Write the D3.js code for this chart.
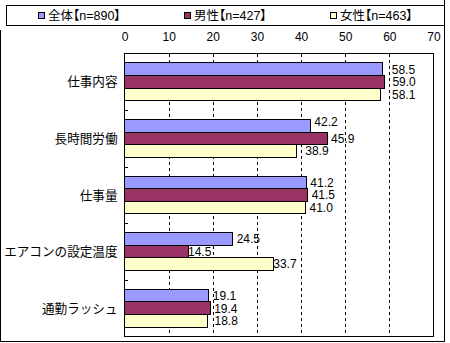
<!DOCTYPE html>
<html>
<head>
<meta charset="utf-8">
<script src="https://cdn.jsdelivr.net/npm/d3@7"></script>
<style>
  html, body { margin: 0; padding: 0; background: #fff; }
  svg { display: block; }
  .num { font-family: "Liberation Sans", Arial, sans-serif; font-size: 12px; fill: #000; }
  .jp { font-family: "Liberation Sans", "Noto Sans CJK JP", sans-serif; font-size: 12.5px; fill: #000; font-feature-settings: "palt"; }
  .cat { font-family: "Noto Sans CJK JP", sans-serif; font-size: 12.6px; fill: #000; }
</style>
</head>
<body>
<svg id="chart" width="450" height="343"></svg>
<script>
// Survey categories (top to bottom) and the three respondent groups
const categories = ["仕事内容", "長時間労働", "仕事量", "エアコンの設定温度", "通勤ラッシュ"];
const seriesNames = ["全体【n=890】", "男性【n=427】", "女性【n=463】"];
const totalValues = [58.5, 42.2, 41.2, 24.5, 19.1];
const maleValues = [59.0, 45.9, 41.5, 14.5, 19.4];
const femaleValues = [58.1, 38.9, 41.0, 33.7, 18.8];
const xTicks = [0, 10, 20, 30, 40, 50, 60, 70];

const seriesColors = ["#9999FF", "#993366", "#FFFFCC"];
// small hand placement of some value labels (px)
const labelNudgeX = [[5, 3.5, 7], [-0.5, 0, 5], [0, 0, 0], [0, -4.5, -4], [0, 0, 3]];
const labelNudgeY = [[0, 0, 0], [-4, 0, 0], [0, 0, 0], [0, 0, 0], [0, 0, 0]];

const valuesBySeries = [totalValues, maleValues, femaleValues];

const svg = d3.select("#chart");

// outer frame
svg.append("path")
  .attr("d", "M0.5,30 V341.5 H444.5 V0")
  .attr("fill", "none").attr("stroke", "#000").attr("stroke-width", 1)
  .attr("shape-rendering", "crispEdges");

const plot = { left: 124.5, right: 433.5, top: 53.5, bottom: 336.5 };

const x = d3.scaleLinear().domain([0, 70]).range([plot.left, plot.right]);
const y = d3.scaleBand().domain(categories).range([plot.top, plot.bottom]);
const ySeries = d3.scaleBand().domain(d3.range(3)).range([0, y.bandwidth()])
  .paddingInner(0).paddingOuter(0.75);

// plot background
svg.append("rect")
  .attr("x", plot.left).attr("y", plot.top)
  .attr("width", plot.right - plot.left).attr("height", plot.bottom - plot.top)
  .attr("fill", "#fff");

// dashed vertical gridlines
svg.append("g")
  .selectAll("line")
  .data(xTicks.slice(1, -1))
  .join("line")
  .attr("x1", d => Math.round(x(d)) + 0.5).attr("x2", d => Math.round(x(d)) + 0.5)
  .attr("y1", plot.top).attr("y2", plot.bottom)
  .attr("stroke", "#000").attr("stroke-dasharray", "3,3")
  .attr("shape-rendering", "crispEdges");

// top value axis labels
const xAxis = d3.axisTop(x).tickValues(xTicks).tickSize(0).tickPadding(0).tickFormat(d3.format("d"));
const gx = svg.append("g").attr("transform", "translate(0,41)").call(xAxis);
gx.select(".domain").remove();
gx.selectAll("text").attr("class", "num").attr("font-family", null).attr("font-size", null).attr("dy", 0);

// bars
const groups = svg.append("g").selectAll("g")
  .data(categories)
  .join("g")
  .attr("transform", c => `translate(0,${y(c)})`);

groups.each(function (c, ci) {
  const g = d3.select(this);
  const rows = valuesBySeries.map((vals, si) => ({ v: vals[ci], si, ci }));
  g.selectAll("rect")
    .data(rows)
    .join("rect")
    .attr("x", x(0))
    .attr("y", d => ySeries(d.si))
    .attr("width", d => x(d.v) - x(0))
    .attr("height", ySeries.bandwidth())
    .attr("fill", d => seriesColors[d.si])
    .attr("stroke", "#000").attr("stroke-width", 1)
    .attr("shape-rendering", "crispEdges");
  g.selectAll("text")
    .data(rows)
    .join("text")
    .attr("class", "num")
    .attr("x", d => x(d.v) + 4 + labelNudgeX[d.ci][d.si])
    .attr("y", d => ySeries(d.si) + ySeries.bandwidth() / 2 + labelNudgeY[d.ci][d.si])
    .attr("dy", "0.36em")
    .text(d => d.v.toFixed(1));
});

// plot border
svg.append("rect")
  .attr("x", plot.left).attr("y", plot.top)
  .attr("width", plot.right - plot.left).attr("height", plot.bottom - plot.top)
  .attr("fill", "none").attr("stroke", "#000")
  .attr("shape-rendering", "crispEdges");

// category axis: ticks between groups, labels on the left
const yAxis = d3.axisLeft(y).tickSize(0).tickPadding(7);
const gy = svg.append("g").attr("transform", `translate(${plot.left},0)`).call(yAxis);
gy.select(".domain").remove();
gy.selectAll("text").attr("class", "cat").attr("font-family", null).attr("font-size", null).attr("dy", "0.36em");

svg.append("g").selectAll("line")
  .data(categories.slice(1))
  .join("line")
  .attr("x1", plot.left).attr("x2", plot.left + 3)
  .attr("y1", c => Math.round(y(c)) + 0.5).attr("y2", c => Math.round(y(c)) + 0.5)
  .attr("stroke", "#000").attr("shape-rendering", "crispEdges");

// legend
const legend = svg.append("g");
legend.append("rect")
  .attr("x", 6.5).attr("y", 5.5).attr("width", 438).attr("height", 20)
  .attr("fill", "#fff").attr("stroke", "#000").attr("shape-rendering", "crispEdges");
const legendX = [38.5, 184.5, 330.5];
const items = legend.selectAll("g.item")
  .data(seriesNames)
  .join("g").attr("class", "item")
  .attr("transform", (d, i) => `translate(${legendX[i]},0)`);
items.append("rect")
  .attr("x", 0).attr("y", 12.5).attr("width", 6).attr("height", 6)
  .attr("fill", (d, i) => seriesColors[i]).attr("stroke", "#000")
  .attr("shape-rendering", "crispEdges");
items.append("text")
  .attr("class", "jp")
  .attr("x", 9.5).attr("y", 15.5).attr("dy", "0.36em")
  .text(d => d);
</script>
</body>
</html>
